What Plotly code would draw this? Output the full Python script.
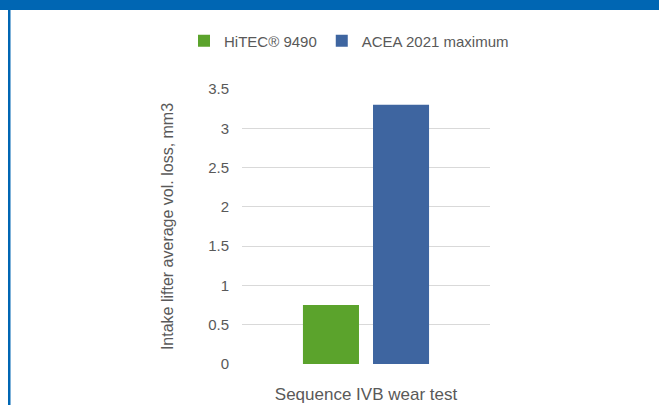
import plotly.graph_objects as go

categories = ["Sequence IVB wear test"]
series_names = ["HiTEC® 9490", "ACEA 2021 maximum"]
hitec_values = [0.75]
acea_values = [3.3]
y_ticks = [0, 0.5, 1, 1.5, 2, 2.5, 3, 3.5]
y_tick_labels = ["0", "0.5", "1", "1.5", "2", "2.5", "3", "3.5"]

W, H = 659, 405
L, R, T, B = 242, 169, 89, 41
pw, ph = W - L - R, H - T - B

def px_x(p):
    return (p - L) / pw

def px_y(p):
    return (H - B - p) / ph

font_color = "#595959"
ff = "Liberation Sans, Arial, sans-serif"

fig = go.Figure()
fig.add_trace(go.Bar(x=categories, y=hitec_values, name=series_names[0],
                     marker=dict(color="#5ba32c", line=dict(width=0))))
fig.add_trace(go.Bar(x=categories, y=acea_values, name=series_names[1],
                     marker=dict(color="#3e65a0", line=dict(width=0))))

fig.update_layout(
    width=W, height=H,
    margin=dict(l=L, r=R, t=T, b=B, pad=0),
    paper_bgcolor="white", plot_bgcolor="white",
    barmode="group", bargap=0.435, bargroupgap=0.2,
    font=dict(family=ff, size=15, color=font_color),
    showlegend=True,
    legend=dict(orientation="h", xref="paper", yref="paper",
                x=px_x(514), y=px_y(41), xanchor="right", yanchor="middle",
                font=dict(size=15, color=font_color), itemwidth=30,
                tracegroupgap=0, traceorder="normal",
                bgcolor="rgba(0,0,0,0)"),
    xaxis=dict(showgrid=False, showline=False, zeroline=False,
               ticks="", ticklabelstandoff=18,
               tickfont=dict(size=17, color=font_color), automargin=False),
    yaxis=dict(range=[0, 3.5], tickvals=y_ticks, ticktext=y_tick_labels,
               showgrid=True, gridcolor="#d9d9d9", gridwidth=1,
               zeroline=False, showline=False,
               ticks="", ticklabelstandoff=12,
               tickfont=dict(size=15, color=font_color), automargin=False,
               title=dict(text="Intake lifter average vol. loss, mm3",
                          font=dict(size=16, color=font_color), standoff=30)),
    shapes=[
        dict(type="rect", xref="paper", yref="paper",
             x0=px_x(0), x1=px_x(W), y0=px_y(10), y1=px_y(0),
             fillcolor="#0066b3", line=dict(width=0), layer="above"),
        dict(type="rect", xref="paper", yref="paper",
             x0=px_x(8), x1=px_x(10.5), y0=px_y(H), y1=px_y(0),
             fillcolor="#0066b3", line=dict(width=0), layer="above"),
    ],
)

fig.write_html("out.html", config={"displayModeBar": False},
               post_script="document.body.style.margin='0';document.body.style.overflow='hidden';")
